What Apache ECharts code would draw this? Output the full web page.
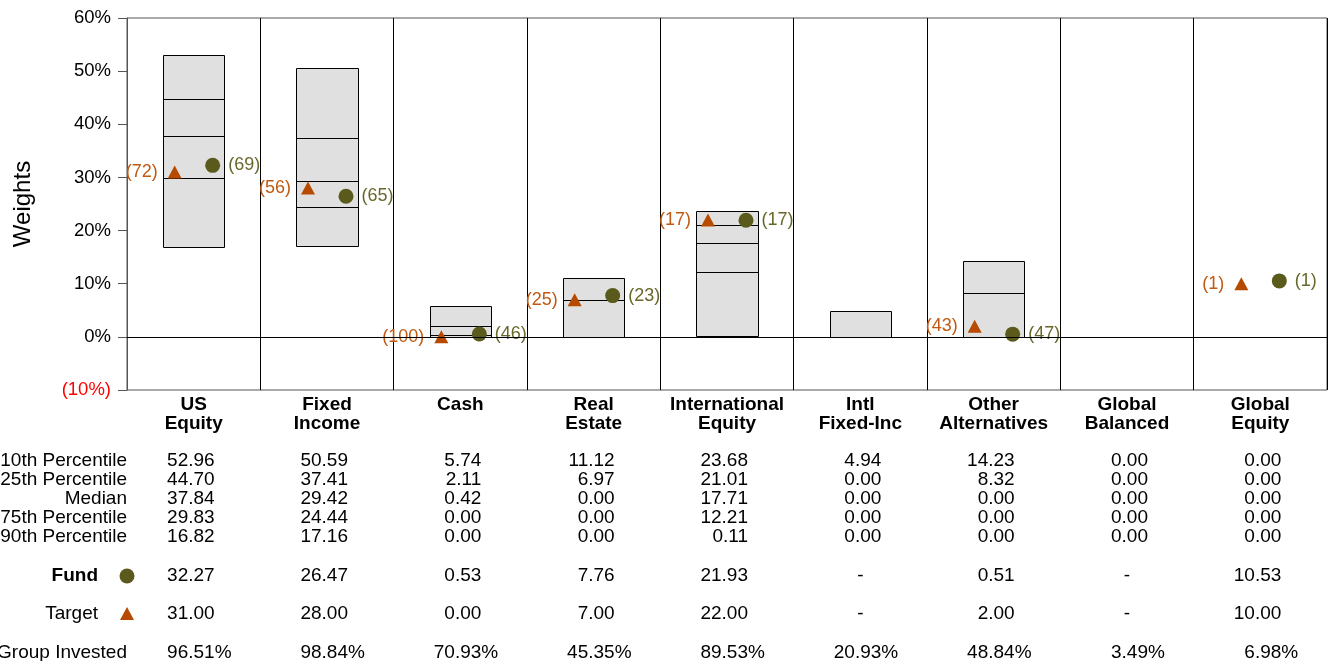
<!DOCTYPE html>
<html><head><meta charset="utf-8">
<script src="https://cdn.jsdelivr.net/npm/echarts@6/dist/echarts.min.js"></script>
<style>html,body{margin:0;padding:0;background:#fff}#c{width:1328px;height:661px}</style>
</head><body><div id="c"></div>
<script>
const categories = ['US\nEquity','Fixed\nIncome','Cash','Real\nEstate','International\nEquity','Intl\nFixed-Inc','Other\nAlternatives','Global\nBalanced','Global\nEquity'];
const p10 = [52.96,50.59,5.74,11.12,23.68,4.94,14.23,0,0];
const p25 = [44.70,37.41,2.11,6.97,21.01,0,8.32,0,0];
const median = [37.84,29.42,0.42,0,17.71,0,0,0,0];
const p75 = [29.83,24.44,0,0,12.21,0,0,0,0];
const p90 = [16.82,17.16,0,0,0.11,0,0,0,0];
const fund = [32.27,26.47,0.53,7.76,21.93,null,0.51,null,10.53];
const fundRank = [69,65,46,23,17,null,47,null,1];
const target = [31,28,0,7,22,null,2,null,10];
const targetRank = [72,56,100,25,17,null,43,null,1];
const groupInvested = [96.51,98.84,70.93,45.35,89.53,20.93,48.84,3.49,6.98];
const rowLabels = ['10th Percentile','25th Percentile','Median','75th Percentile','90th Percentile'];
const yMin = -10, yMax = 60, yStep = 10;

const FONT = '"Liberation Sans", Arial, sans-serif';
const FUND_C = '#5a5a1c', FUND_L = '#68682a';
const TGT_C = '#b64a00', TGT_L = '#c05a12';

const chart = echarts.init(document.getElementById('c'), null, {renderer: 'canvas'});

const boxData = categories.map((c, i) => [i, p10[i], p25[i], median[i], p75[i], p90[i]]);
const fundData = fund.map((v, i) => v == null ? [i, '-'] : [i, v]);
const tgtData = target.map((v, i) => v == null ? [i, '-'] : [i, v]);

function crisp(v){ return Math.round(v) + 0.5; }

chart.setOption({
  animation: false,
  textStyle: {fontFamily: FONT},
  grid: {left: 127, right: 1, top: 18, bottom: 271, show: true, borderColor: '#555', borderWidth: 1, backgroundColor: 'transparent'},
  xAxis: {
    type: 'category', data: categories, boundaryGap: true,
    axisLine: {show: false}, axisTick: {show: false},
    splitLine: {show: true, interval: 0, lineStyle: {color: '#000', width: 1}},
    axisLabel: {interval: 0, fontSize: 19, fontWeight: 'bold', color: '#000', lineHeight: 19, margin: 5, fontFamily: FONT}
  },
  yAxis: {
    type: 'value', min: yMin, max: yMax, interval: yStep,
    name: 'Weights', nameLocation: 'middle', nameGap: 92, nameRotate: 90,
    nameTextStyle: {fontSize: 24, color: '#000', fontFamily: FONT},
    axisLine: {show: true, lineStyle: {color: '#555'}},
    axisTick: {show: true, inside: false, length: 9, lineStyle: {color: '#555'}},
    splitLine: {show: false},
    axisLabel: {
      margin: 16, fontSize: 18.5, color: '#000', fontFamily: FONT,
      formatter: v => v < 0 ? '{neg|(' + Math.abs(v) + '%)}' : v + '%',
      rich: {neg: {color: '#ff0000', fontSize: 18.5, fontFamily: FONT}}
    }
  },
  series: [
    {
      type: 'line', data: [], z: 1, silent: true,
      markLine: {symbol: 'none', silent: true, label: {show: false}, lineStyle: {color: '#000', width: 1, type: 'solid'}, data: [{yAxis: 0}]}
    },
    {
      type: 'custom', z: 2, data: boxData,
      renderItem: function(params, api){
        const i = api.value(0);
        const cx = api.coord([i, 0])[0];
        const bw = api.size([1, 0])[0] * 0.46;
        const x0 = crisp(cx - bw / 2), x1 = crisp(cx + bw / 2);
        const yTop = crisp(api.coord([i, api.value(1)])[1]);
        const yBot = crisp(api.coord([i, api.value(5)])[1]);
        const children = [];
        if (yBot - yTop < 1) {
          children.push({type: 'line', shape: {x1: x0, y1: yTop, x2: x1, y2: yTop}, style: {stroke: '#d8d8d8', lineWidth: 1}});
          return {type: 'group', children};
        }
        children.push({type: 'rect', shape: {x: x0, y: yTop, width: x1 - x0, height: yBot - yTop}, style: {fill: '#e0e0e0', stroke: '#000', lineWidth: 1}});
        [2, 3, 4].forEach(k => {
          const y = crisp(api.coord([i, api.value(k)])[1]);
          children.push({type: 'line', shape: {x1: x0, y1: y, x2: x1, y2: y}, style: {stroke: '#000', lineWidth: 1}});
        });
        return {type: 'group', children};
      }
    },
    {
      type: 'scatter', z: 3, data: tgtData, symbol: 'triangle', symbolSize: [14, 13], symbolOffset: [-19, 0],
      itemStyle: {color: TGT_C, opacity: 1},
      label: {show: true, position: 'left', distance: 10, fontSize: 18, color: TGT_L, fontFamily: FONT,
        formatter: p => '(' + targetRank[p.dataIndex] + ')'}
    },
    {
      type: 'scatter', z: 3, data: fundData, symbol: 'circle', symbolSize: 15, symbolOffset: [19, 0],
      itemStyle: {color: FUND_C, opacity: 1},
      label: {show: true, position: 'right', distance: 8, fontSize: 18, color: FUND_L, fontFamily: FONT,
        formatter: p => '(' + fundRank[p.dataIndex] + ')'}
    }
  ]
});

// Table below the chart
const rowY = [461, 480, 499, 518, 537];
const fundY = 576, tgtY = 614, grpY = 653;
const TS = {fontSize: 19, fontFamily: FONT, fill: '#000'};
const g = [];
function txt(x, y, text, align, extra){
  g.push({type: 'text', x: x, y: y, style: Object.assign({}, TS, {text: text, textAlign: align, textVerticalAlign: 'middle'}, extra || {})});
}
rowLabels.forEach((l, r) => txt(127, rowY[r], l, 'right'));
txt(98, fundY, 'Fund', 'right', {fontWeight: 'bold'});
txt(98, tgtY, 'Target', 'right');
txt(127, grpY, 'Group Invested', 'right');
g.push({type: 'circle', shape: {cx: 127, cy: fundY, r: 7.5}, style: {fill: FUND_C}});
g.push({type: 'polygon', shape: {points: [[127, tgtY - 7], [134, tgtY + 6], [120, tgtY + 6]]}, style: {fill: TGT_C}});

const cols = [p10, p25, median, p75, p90];
categories.forEach((c, i) => {
  const cx = chart.convertToPixel({xAxisIndex: 0}, i);
  const rx = cx + 21;
  cols.forEach((arr, r) => txt(rx, rowY[r], arr[i].toFixed(2), 'right'));
  if (fund[i] == null) txt(cx, fundY, '-', 'center'); else txt(rx, fundY, fund[i].toFixed(2), 'right');
  if (target[i] == null) txt(cx, tgtY, '-', 'center'); else txt(rx, tgtY, target[i].toFixed(2), 'right');
  txt(rx, grpY, groupInvested[i].toFixed(2), 'right');
  txt(rx, grpY, '%', 'left');
});
chart.setOption({graphic: {elements: g}});
</script>
</body></html>
